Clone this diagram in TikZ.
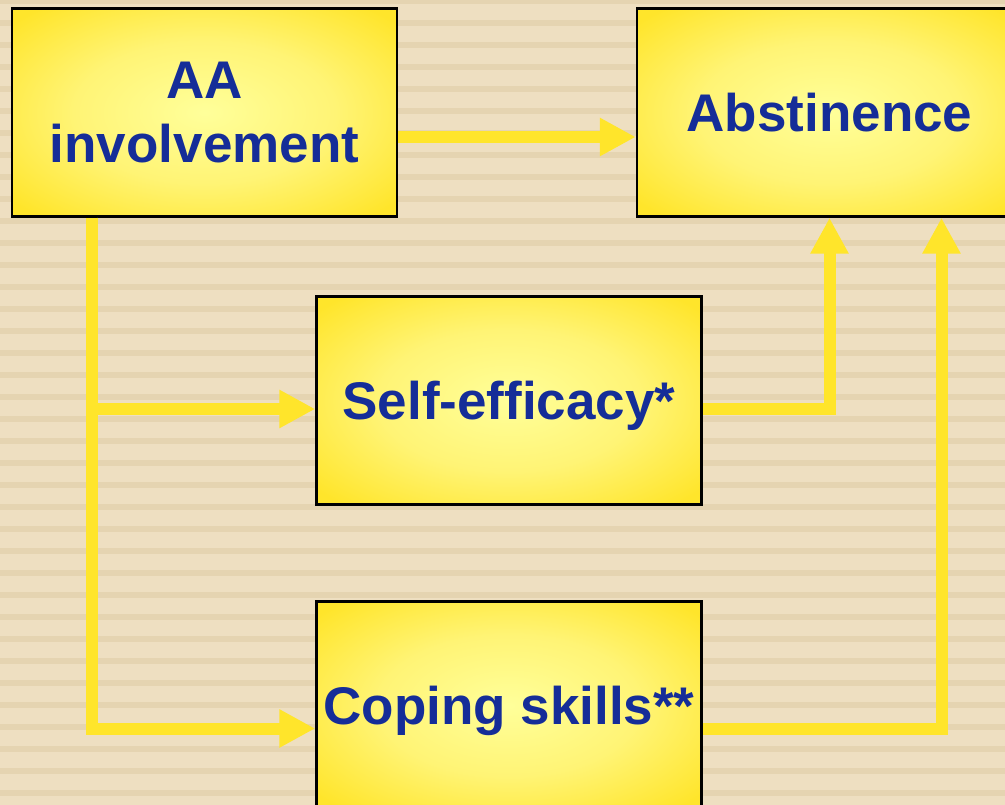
\documentclass[tikz,border=0pt]{standalone}
\usepackage{fontspec}
\setmainfont{Liberation Sans}
\usepackage{tikz}
\usetikzlibrary{arrows.meta,positioning}
\definecolor{PaperBg}{HTML}{EEDFC1}
\definecolor{PaperLine}{HTML}{E5D4B1}
\definecolor{FlowYellow}{HTML}{FFE52B}
\definecolor{GlowMid}{HTML}{FFF475}
\definecolor{GlowLight}{HTML}{FFFF9A}
\definecolor{LabelBlue}{HTML}{152D98}
\pgfdeclareradialshading{boxglow}{\pgfpoint{0bp}{0bp}}{color(0bp)=(GlowLight);
  color(17bp)=(GlowMid); color(33bp)=(FlowYellow); color(50bp)=(FlowYellow)}

\begin{document}
\begin{tikzpicture}[
  x=1pt, y=-1pt,
  box/.style={draw=black, line width=2.5pt, shading=boxglow, minimum width=385pt,
    minimum height=208pt, inner sep=0pt, text=LabelBlue,
    font=\fontsize{53}{64}\selectfont\bfseries, align=center},
  flow/.style={-{Triangle[width=36pt,length=36pt]}, FlowYellow, line width=12pt}
]
  \clip (0,0) rectangle (1005,805);
  \fill[PaperBg] (0,0) rectangle (1005,805);
  \foreach \k in {0,...,37}
    \fill[PaperLine] (0,{22*\k-2}) rectangle (1005,{22*\k+4});

  \node[box] (aa) at (204.5,112.5) {AA\\involvement};
  \node[box, right=237.5pt of aa] (abst) {Abstinence};
  \node[box, text depth=0pt] (self) at (509,400.5) {Self-efficacy*};
  \node[box, text depth=0pt, below=94.5pt of self] (cope) {Coping skills**};

  \draw[flow] ([yshift=-24.5pt]aa.east) -- ([yshift=-24.5pt]abst.west);
  \draw[flow] ([xshift=81pt]aa.south west) |- ([yshift=-8.5pt]self.west);
  \draw[flow] ([xshift=81pt]aa.south west) |- ([yshift=-23pt]cope.west);
  \draw[flow] ([yshift=-8.5pt]self.east) -| (abst.south);
  \draw[flow] ([yshift=-23pt]cope.east) -| ([xshift=112pt]abst.south);
\end{tikzpicture}
\end{document}
